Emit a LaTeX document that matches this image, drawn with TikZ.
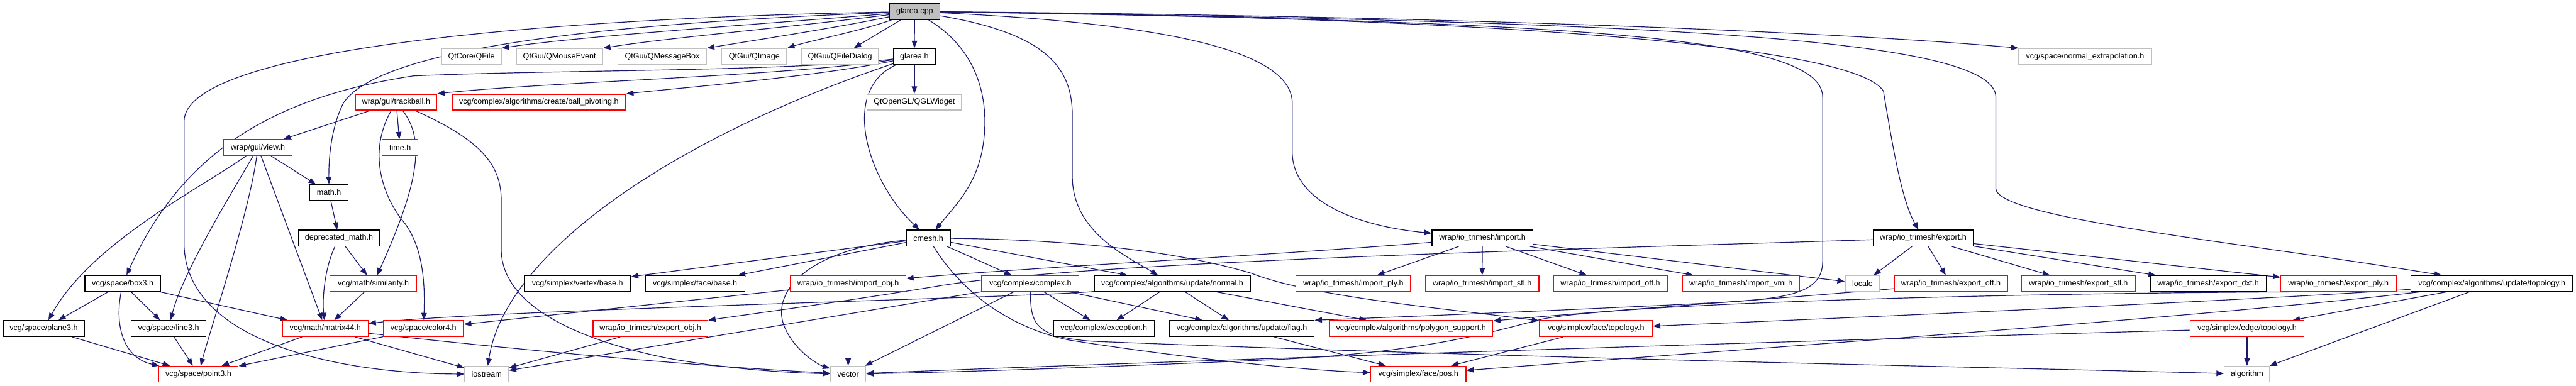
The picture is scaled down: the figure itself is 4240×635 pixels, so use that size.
\documentclass[tikz,border=0pt]{standalone}
\usepackage{fontspec}
\setmainfont{Liberation Sans}
\usetikzlibrary{arrows.meta,backgrounds}
\definecolor{edgecol}{HTML}{191970}
\definecolor{redc}{HTML}{FF0000}
\definecolor{extc}{HTML}{BFBFBF}
\definecolor{rootfill}{HTML}{BFBFBF}
\newcommand{\mkbox}[6]{\node[#6, minimum width={(#4-#3)*0.01cm}] (#1) at ({(#3+#4)/2},#5) {#2};}
\tikzset{
  bx/.style={draw, rectangle, minimum height=0.26cm, inner sep=0pt, fill=white,
    font=\fontsize{3.7}{4.4}\selectfont, line width=0.45pt},
  blk/.style={bx, draw=black},
  trunc/.style={bx, draw=redc},
  ext/.style={bx, draw=extc},
  root/.style={bx, draw=black, fill=rootfill},
  dep/.style={draw=edgecol, line width=0.35pt, -{Triangle[length=0.12cm,width=0.09cm]}}
}
\begin{document}
\begin{tikzpicture}[x=0.01cm, y=-0.01cm]
\useasboundingbox (0,0) rectangle (4240,635);
% row 0/1
\mkbox{gc}{glarea.cpp}{1464}{1547}{19}{root}
\mkbox{qfile}{QtCore/QFile}{727}{825}{93}{ext}
\mkbox{qmouse}{QtGui/QMouseEvent}{850}{992}{93}{ext}
\mkbox{qmsg}{QtGui/QMessageBox}{1017}{1163}{93}{ext}
\mkbox{qimage}{QtGui/QImage}{1188}{1295}{93}{ext}
\mkbox{qfd}{QtGui/QFileDialog}{1319}{1446}{93}{ext}
\mkbox{gh}{glarea.h}{1471}{1539}{93}{blk}
\mkbox{nex}{vcg/space/normal\_extrapolation.h}{3323}{3541}{93}{ext}
% row 2
\mkbox{tb}{wrap/gui/trackball.h}{585}{719}{168}{trunc}
\mkbox{bp}{vcg/complex/algorithms/create/ball\_pivoting.h}{744}{1030}{168}{trunc}
\mkbox{qgl}{QtOpenGL/QGLWidget}{1427}{1583}{168}{ext}
% row 3/4
\mkbox{view}{wrap/gui/view.h}{368}{481}{243}{trunc}
\mkbox{timeh}{time.h}{629}{688}{243}{trunc}
\mkbox{mathh}{math.h}{510}{573}{317}{blk}
% row 5
\mkbox{dmath}{deprecated\_math.h}{491}{625}{392}{blk}
\mkbox{cmesh}{cmesh.h}{1492}{1564}{392}{blk}
\mkbox{imp}{wrap/io\_trimesh/import.h}{2357}{2523}{392}{blk}
\mkbox{exp}{wrap/io\_trimesh/export.h}{3083}{3248}{392}{blk}
% row 6
\mkbox{box3}{vcg/space/box3.h}{140}{264}{467}{blk}
\mkbox{sim}{vcg/math/similarity.h}{543}{686}{467}{trunc}
\mkbox{vbase}{vcg/simplex/vertex/base.h}{863}{1038}{467}{blk}
\mkbox{fbase}{vcg/simplex/face/base.h}{1062}{1226}{467}{blk}
\mkbox{iobj}{wrap/io\_trimesh/import\_obj.h}{1301}{1491}{467}{trunc}
\mkbox{cplx}{vcg/complex/complex.h}{1616}{1776}{467}{trunc}
\mkbox{unorm}{vcg/complex/algorithms/update/normal.h}{1801}{2058}{467}{blk}
\mkbox{iply}{wrap/io\_trimesh/import\_ply.h}{2133}{2322}{467}{trunc}
\mkbox{istl}{wrap/io\_trimesh/import\_stl.h}{2346}{2533}{467}{trunc}
\mkbox{ioff}{wrap/io\_trimesh/import\_off.h}{2557}{2744}{467}{trunc}
\mkbox{ivmi}{wrap/io\_trimesh/import\_vmi.h}{2769}{2962}{467}{trunc}
\mkbox{locale}{locale}{3037}{3094}{467}{ext}
\mkbox{eoff}{wrap/io\_trimesh/export\_off.h}{3118}{3304}{467}{trunc}
\mkbox{estl}{wrap/io\_trimesh/export\_stl.h}{3327}{3515}{467}{trunc}
\mkbox{edxf}{wrap/io\_trimesh/export\_dxf.h}{3539}{3730}{467}{blk}
\mkbox{eply}{wrap/io\_trimesh/export\_ply.h}{3754}{3944}{467}{trunc}
\mkbox{utopo}{vcg/complex/algorithms/update/topology.h}{3968}{4235}{467}{blk}
% row 7
\mkbox{plane}{vcg/space/plane3.h}{5}{139}{541}{blk}
\mkbox{line}{vcg/space/line3.h}{216}{339}{541}{blk}
\mkbox{m44}{vcg/math/matrix44.h}{465}{606}{541}{trunc}
\mkbox{color}{vcg/space/color4.h}{631}{763}{541}{trunc}
\mkbox{eobj}{wrap/io\_trimesh/export\_obj.h}{976}{1165}{541}{trunc}
\mkbox{exc}{vcg/complex/exception.h}{1734}{1900}{541}{blk}
\mkbox{flag}{vcg/complex/algorithms/update/flag.h}{1925}{2163}{541}{blk}
\mkbox{poly}{vcg/complex/algorithms/polygon\_support.h}{2188}{2457}{541}{trunc}
\mkbox{ftopo}{vcg/simplex/face/topology.h}{2534}{2720}{541}{trunc}
\mkbox{etopo}{vcg/simplex/edge/topology.h}{3605}{3792}{541}{trunc}
% row 8
\mkbox{p3}{vcg/space/point3.h}{261}{392}{616}{trunc}
\mkbox{ios}{iostream}{765}{837}{616}{ext}
\mkbox{vec}{vector}{1367}{1425}{616}{ext}
\mkbox{fpos}{vcg/simplex/face/pos.h}{2256}{2413}{616}{trunc}
\mkbox{alg}{algorithm}{3661}{3736}{616}{ext}

\begin{pgfonlayer}{background}
\fill[white] (0,0) rectangle (4240,635);
% glarea.cpp
\draw[dep] (gc) .. controls (1250,40) and (950,60) .. (qfile.north east);
\draw[dep] (gc) .. controls (1300,45) and (1100,62) .. (qmouse.north east);
\draw[dep] (gc) .. controls (1380,45) and (1250,65) .. (qmsg.north east);
\draw[dep] (gc) .. controls (1420,50) and (1330,68) .. (qimage.north east);
\draw[dep] (gc) -- (qfd);
\draw[dep] (gc) -- (gh);
\draw[dep] (gc) .. controls (2300,25) and (3000,50) .. (nex.north west);
\draw[dep] (gc) .. controls (900,30) and (303,80) .. (303,200) -- (303,400) .. controls (303,560) and (550,615) .. (ios);
\draw[dep] (gc) .. controls (950,40) and (620,85) .. (565,170) .. controls (545,210) and (541,260) .. (mathh);
\draw[dep] (gc) .. controls (1590,70) and (1621,130) .. (1621,200) .. controls (1621,290) and (1580,330) .. (cmesh);
\draw[dep] (gc) .. controls (1720,55) and (1765,110) .. (1765,190) -- (1765,290) .. controls (1765,380) and (1850,420) .. (unorm);
\draw[dep] (gc) .. controls (1950,40) and (2127,90) .. (2127,170) -- (2127,250) .. controls (2127,330) and (2230,372) .. (imp);
\draw[dep] (gc) .. controls (2400,28) and (3050,70) .. (3100,150) .. controls (3115,240) and (3130,330) .. (exp);
\draw[dep] (gc) .. controls (2700,35) and (3285,60) .. (3285,160) -- (3285,310) .. controls (3285,360) and (3700,400) .. (utopo);
\draw[dep] (gc) .. controls (2600,35) and (3000,60) .. (3000,160) -- (3000,430) .. controls (3000,480) and (2950,490) .. (2850,497) .. controls (2600,510) and (2300,522) .. (flag.north east);
% glarea.h
\draw[dep] (gh) -- (qgl);
\draw[dep] (gh) .. controls (1300,125) and (900,135) .. (tb.north east);
\draw[dep] (gh) .. controls (1350,125) and (1150,142) .. (bp.north east);
\draw[dep] (gh) .. controls (1300,118) and (900,115) .. (680,125) .. controls (450,160) and (300,250) .. (box3);
\draw[dep] (gh) .. controls (1380,150) and (1430,300) .. (cmesh);
\draw[dep] (gh) .. controls (1100,230) and (830,420) .. (ios);
% trackball
\draw[dep] (tb) -- (view);
\draw[dep] (tb) -- (timeh);
\draw[dep] (tb) .. controls (700,230) and (690,300) .. (sim);
\draw[dep] (tb) .. controls (605,250) and (630,320) .. (660,360) .. controls (695,400) and (700,460) .. (color);
\draw[dep] (tb) .. controls (790,230) and (825,270) .. (825,330) -- (825,410) .. controls (825,520) and (1000,570) .. (1100,590) .. controls (1200,608) and (1300,614) .. (vec);
% view
\draw[dep] (view) -- (mathh);
\draw[dep] (view) .. controls (330,310) and (150,400) .. (plane);
\draw[dep] (view) .. controls (380,320) and (300,450) .. (line);
\draw[dep] (view) .. controls (410,350) and (350,530) .. (p3);
\draw[dep] (view) -- (m44);
% math
\draw[dep] (mathh) -- (dmath);
\draw[dep] (dmath) -- (sim);
\draw[dep] (dmath) .. controls (535,440) and (530,490) .. (m44);
\draw[dep] (box3) -- (plane);
\draw[dep] (box3) -- (line);
\draw[dep] (box3) .. controls (188,540) and (205,590) .. (p3);
\draw[dep] (box3) -- (m44);
\draw[dep] (plane) -- (p3);
\draw[dep] (line) -- (p3);
\draw[dep] (sim) -- (m44);
\draw[dep] (m44) -- (p3);
\draw[dep] (m44) -- (ios);
\draw[dep] (m44) .. controls (800,570) and (1100,600) .. (vec);
\draw[dep] (color) -- (p3);
% cmesh
\draw[dep] (cmesh) -- (vbase);
\draw[dep] (cmesh) -- (fbase);
\draw[dep] (cmesh) .. controls (1330,410) and (1270,480) .. (1290,535) .. controls (1305,575) and (1345,600) .. (vec);
\draw[dep] (cmesh) -- (cplx);
\draw[dep] (cmesh) -- (unorm);
\draw[dep] (cmesh) .. controls (1570,460) and (1640,535) .. (1760,560) .. controls (1950,590) and (2150,610) .. (fpos);
\draw[dep] (cmesh) .. controls (1800,395) and (1960,420) .. (2060,450) .. controls (2160,490) and (2400,510) .. (ftopo);
% complex
\draw[dep] (cplx) -- (exc);
\draw[dep] (cplx) -- (flag);
\draw[dep] (cplx) -- (vec);
\draw[dep] (cplx) -- (ios);
\draw[dep] (cplx) .. controls (1696,535) and (1705,555) .. (1800,562) .. controls (2500,590) and (3300,605) .. (alg);
% update/normal
\draw[dep] (unorm) -- (exc);
\draw[dep] (unorm) -- (flag);
\draw[dep] (unorm) -- (poly);
\draw[dep] (unorm) .. controls (1700,490) and (800,510) .. (m44);
% import_obj
\draw[dep] (iobj) -- (vec);
\draw[dep] (iobj) -- (color);
% import
\draw[dep] (imp) .. controls (2100,420) and (1700,440) .. (iobj);
\draw[dep] (imp) -- (iply);
\draw[dep] (imp) -- (istl);
\draw[dep] (imp) -- (ioff);
\draw[dep] (imp) -- (ivmi);
\draw[dep] (imp) -- (locale);
% export
\draw[dep] (exp) -- (locale);
\draw[dep] (exp) -- (eoff);
\draw[dep] (exp) -- (estl);
\draw[dep] (exp) -- (edxf);
\draw[dep] (exp) -- (eply);
\draw[dep] (exp) .. controls (2600,410) and (1800,430) .. (1550,470) .. controls (1400,495) and (1250,515) .. (eobj);
\draw[dep] (eobj) -- (ios);
\draw[dep] (eoff) .. controls (2950,490) and (2600,515) .. (poly);
% update/topology
\draw[dep] (utopo) -- (etopo);
\draw[dep] (utopo) -- (alg);
\draw[dep] (utopo) .. controls (3700,495) and (3000,525) .. (ftopo);
\draw[dep] (utopo) .. controls (3600,525) and (2800,580) .. (fpos);
\draw[dep] (utopo.south west) .. controls (3500,478) and (2700,495) .. (2540,525) .. controls (2460,545) and (2350,580) .. (2100,592) .. controls (1800,605) and (1600,612) .. (vec);
\draw[dep] (etopo) -- (alg);
\draw[dep] (etopo) .. controls (3000,560) and (1900,595) .. (vec);
\draw[dep] (flag) -- (fpos);
\draw[dep] (ftopo) -- (fpos);
\end{pgfonlayer}
\end{tikzpicture}
\end{document}
